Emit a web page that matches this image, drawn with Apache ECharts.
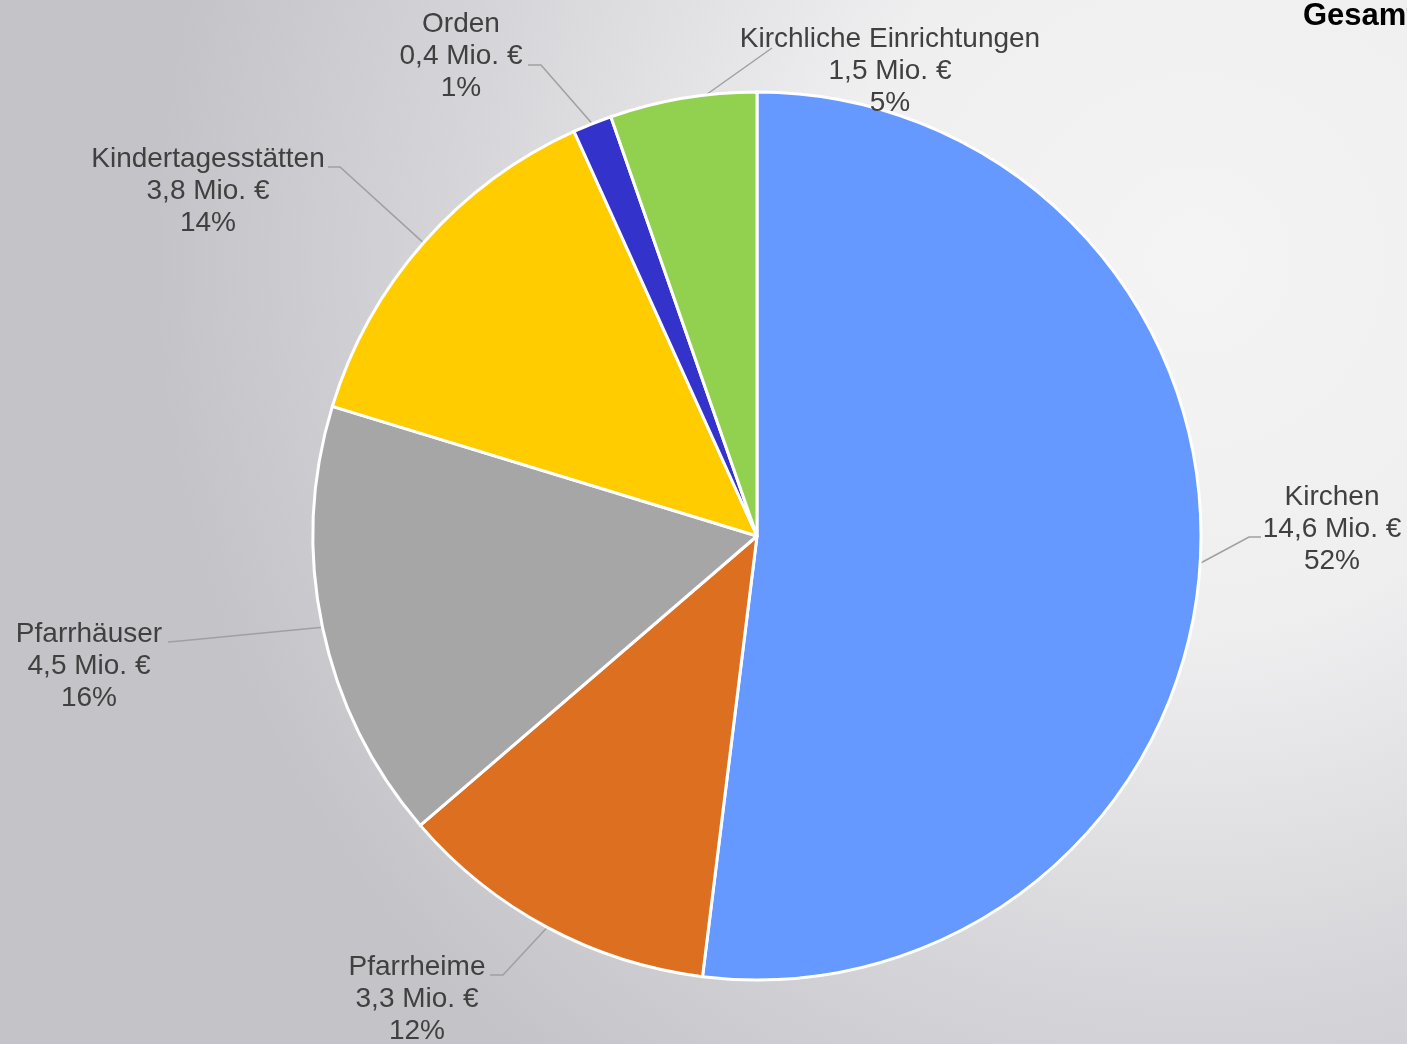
<!DOCTYPE html>
<html>
<head>
<meta charset="utf-8">
<script src="https://cdn.jsdelivr.net/npm/echarts@6/dist/echarts.min.js"></script>
<style>
  html, body { margin: 0; padding: 0; }
  #chart { width: 1407px; height: 1044px; }
</style>
</head>
<body>
<div id="chart"></div>
<script>
var categories = ['Kirchen', 'Pfarrheime', 'Pfarrhäuser', 'Kindertagesstätten', 'Orden', 'Kirchliche Einrichtungen'];
var values = [14.6, 3.3, 4.5, 3.8, 0.4, 1.5];
var colors = ['#6699ff', '#dc7020', '#a6a6a6', '#ffcc00', '#3333cc', '#92d050'];

// label placement: text center, line elbow, line end
var labelCenter = [[1332, 529], [417, 999], [89, 666], [208, 191], [461, 56], [890, 71]];
var labelElbow = [[1249, 537], [503, 975], [180, 641], [340, 167], [541, 65], [772, 48]];
var labelEnd = [[1261, 537], [490, 975], [168, 642], [328, 167], [528, 65], [772, 48]];

var myChart = echarts.init(document.getElementById('chart'));

var option = {
  backgroundColor: {
    type: 'radial', x: 0.85, y: 0.25, r: 1.0,
    colorStops: [
      { offset: 0, color: '#f4f4f4' },
      { offset: 0.35, color: '#efeff0' },
      { offset: 0.7, color: '#d6d6da' },
      { offset: 1, color: '#c4c3c8' }
    ]
  },
  title: {
    text: 'Gesamt',
    left: 1298,
    top: -4,
    textStyle: { fontFamily: 'Liberation Sans', fontSize: 31, fontWeight: 'bold', color: '#000' }
  },
  series: [{
    type: 'pie',
    center: [757, 536],
    radius: 444,
    startAngle: 90,
    clockwise: true,
    animation: false,
    data: categories.map(function (c, i) {
      return { name: c, value: values[i], itemStyle: { color: colors[i] } };
    }),
    itemStyle: { borderColor: '#fff', borderWidth: 3 },
    label: {
      show: true,
      fontFamily: 'Liberation Sans',
      fontSize: 28,
      lineHeight: 32,
      color: '#404040',
      align: 'center',
      formatter: function (p) {
        return p.name + '\n' + String(p.value).replace('.', ',') + ' Mio. €\n' + Math.round(p.percent) + '%';
      }
    },
    labelLine: { show: true, lineStyle: { color: '#a0a0a0', width: 1.5 } },
    labelLayout: function (params) {
      var i = params.dataIndex;
      var start = params.labelLinePoints ? params.labelLinePoints[0] : labelElbow[i];
      if (i === 5) start = [703, 97];
      return {
        x: labelCenter[i][0],
        y: labelCenter[i][1],
        align: 'center',
        verticalAlign: 'middle',
        labelLinePoints: [start, labelElbow[i], labelEnd[i]]
      };
    }
  }]
};

myChart.setOption(option);
</script>
</body>
</html>
